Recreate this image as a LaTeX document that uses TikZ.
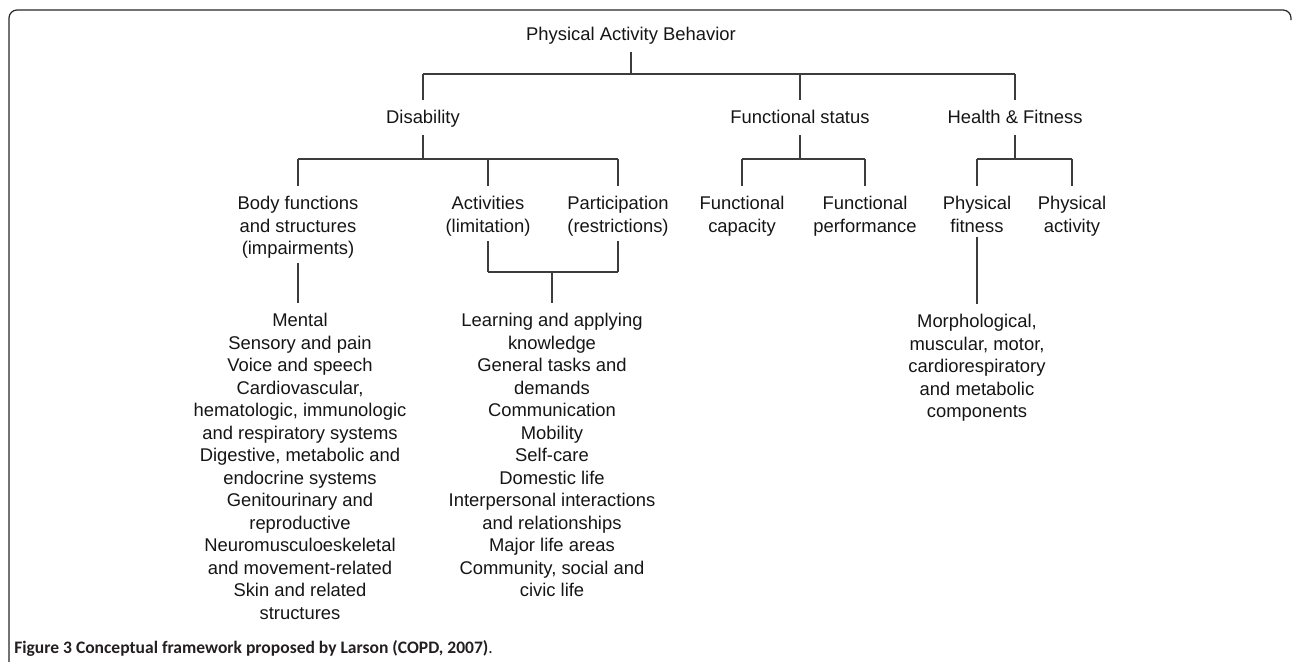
\documentclass[tikz,border=0pt]{standalone}
\usepackage{fontspec}
\setmainfont{Liberation Sans}
\newfontfamily\capfont{Carlito}
\definecolor{linegray}{HTML}{3C3C3C}
\definecolor{txt}{HTML}{151515}
\definecolor{capcol}{HTML}{231F20}
\begin{document}
\begin{tikzpicture}[x=0.75pt,y=-0.75pt,
  lab/.style={anchor=north,inner sep=0pt,outer sep=0pt,align=center,text=txt,
    font=\fontsize{13.8pt}{16.875pt}\selectfont},
  conn/.style={draw=linegray,line width=0.8pt},
  border/.style={draw=black!85,line width=0.9pt,rounded corners=6pt},
  from/.style={shorten <=3.6pt},
  to/.style={shorten >=6pt}]
\useasboundingbox (0,0) rectangle (1292,661);
\draw[border] (9,663) -- (9,10) -- (1291,10) -- (1291,20);

% nodes
\node[lab] (pab) at (631,25) {\strut Physical Activity Behavior};
\node[lab] (dis) at (423,108) {\strut Disability};
\node[lab] (fs) at (800,108) {\strut Functional status};
\node[lab] (hf) at (1015,108) {\strut Health \& Fitness};

\node[lab] (body) at (298,194) {\strut Body functions\\and structures\\(impairments)};
\node[lab] (act) at (488,194) {\strut Activities\\(limitation)};
\node[lab] (par) at (618,194) {\strut Participation\\(restrictions)};
\node[lab] (fcap) at (742,194) {\strut Functional\\capacity};
\node[lab] (fperf) at (865,194) {\strut Functional\\performance};
\node[lab] (pfit) at (977,194) {\strut Physical\\fitness};
\node[lab] (pact) at (1072,194) {\strut Physical\\activity};

\node[lab] (blist) at (300,311) {\strut Mental\\Sensory and pain\\Voice and speech\\Cardiovascular,\\hematologic, immunologic\\and respiratory systems\\Digestive, metabolic and\\endocrine systems\\Genitourinary and\\reproductive\\Neuromusculoeskeletal\\and movement-related\\Skin and related\\structures};
\node[lab] (alist) at (552,311) {\strut Learning and applying\\knowledge\\General tasks and\\demands\\Communication\\Mobility\\Self-care\\Domestic life\\Interpersonal interactions\\and relationships\\Major life areas\\Community, social and\\civic life};
\node[lab] (flist) at (977,312) {\strut Morphological,\\muscular, motor,\\cardiorespiratory\\and metabolic\\components};

\node[anchor=base west,inner sep=0pt,text=capcol,font=\capfont\fontsize{13.15pt}{15pt}\selectfont] (cap) at (14,653) {\textbf{Figure 3 Conceptual framework proposed by Larson (COPD, 2007)}.};

% bus levels
\coordinate (bus1) at (0,74);
\coordinate (bus2) at (0,159);
\coordinate (bus3) at (0,272);

% level 0 -> 1
\draw[conn,from] (pab.south) -- (pab.south |- bus1);
\draw[conn] (dis.north |- bus1) -- (hf.north |- bus1);
\draw[conn,to] (dis.north |- bus1) -- (dis.north);
\draw[conn,to] (fs.north |- bus1) -- (fs.north);
\draw[conn,to] (hf.north |- bus1) -- (hf.north);

% Disability
\draw[conn,from] (dis.south) -- (dis.south |- bus2);
\draw[conn] (body.north |- bus2) -- (par.north |- bus2);
\draw[conn,to] (body.north |- bus2) -- (body.north);
\draw[conn,to] (act.north |- bus2) -- (act.north);
\draw[conn,to] (par.north |- bus2) -- (par.north);

% Functional status
\draw[conn,from] (fs.south) -- (fs.south |- bus2);
\draw[conn] (fcap.north |- bus2) -- (fperf.north |- bus2);
\draw[conn,to] (fcap.north |- bus2) -- (fcap.north);
\draw[conn,to] (fperf.north |- bus2) -- (fperf.north);

% Health & Fitness
\draw[conn,from] (hf.south) -- (hf.south |- bus2);
\draw[conn] (pfit.north |- bus2) -- (pact.north |- bus2);
\draw[conn,to] (pfit.north |- bus2) -- (pfit.north);
\draw[conn,to] (pact.north |- bus2) -- (pact.north);

% level 3
\draw[conn,from,to] (body.south) -- (body.south |- blist.north);
\draw[conn,from] (act.south) -- (act.south |- bus3);
\draw[conn,from] (par.south) -- (par.south |- bus3);
\draw[conn] (act.south |- bus3) -- (par.south |- bus3);
\draw[conn,to] (alist.north |- bus3) -- (alist.north);
\draw[conn,from,to] (pfit.south) -- (pfit.south |- flist.north);
\end{tikzpicture}
\end{document}
